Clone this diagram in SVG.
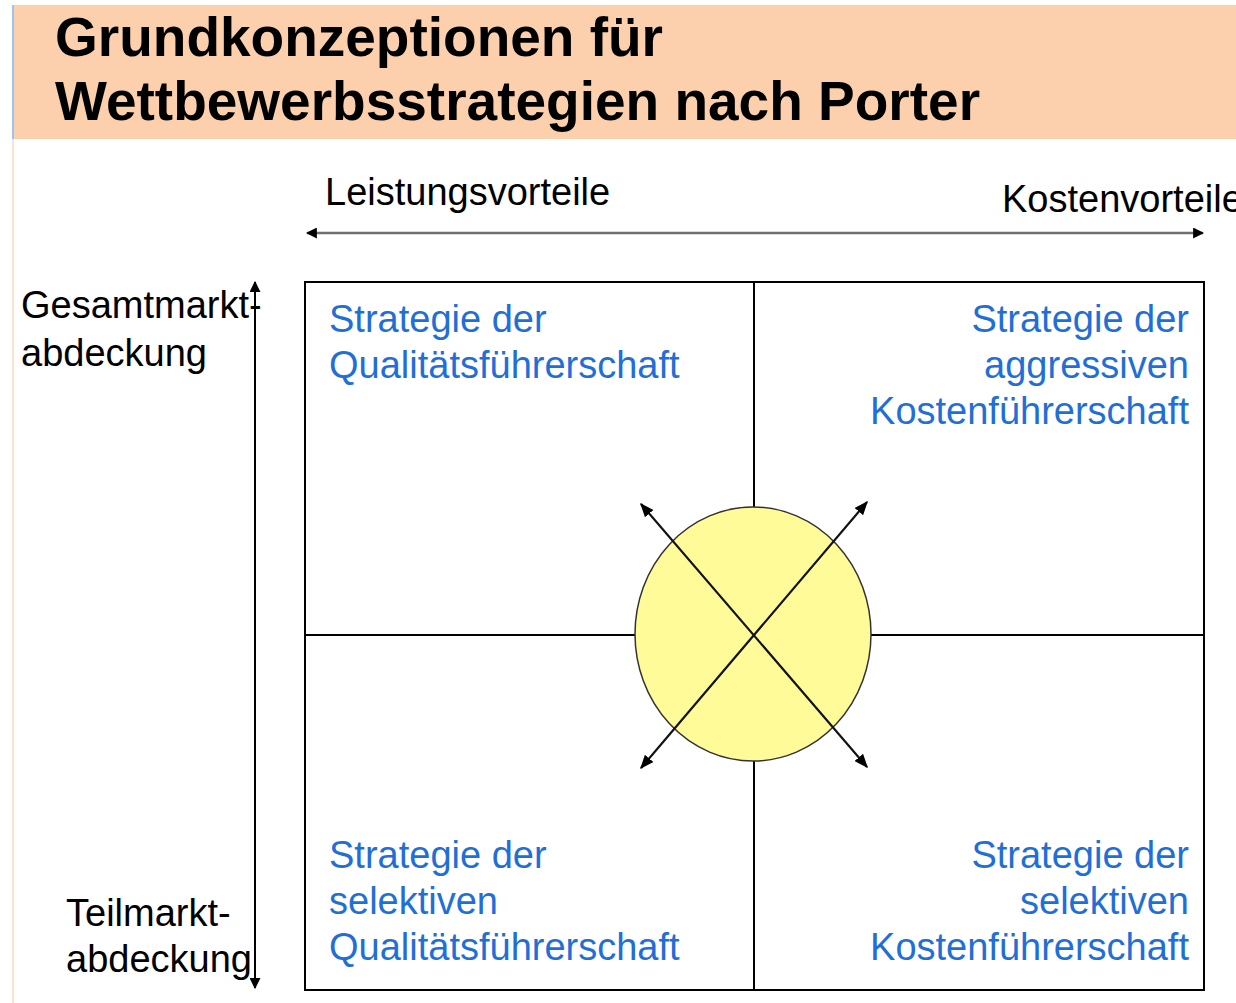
<svg xmlns="http://www.w3.org/2000/svg" width="1236" height="1003" viewBox="0 0 1236 1003">
  <style>
    .title { font-family: "Liberation Sans", Arial, sans-serif; font-weight: bold; font-size: 55px; fill: #000; }
    .axis { font-family: "Liberation Sans", Arial, sans-serif; font-size: 38px; fill: #000; }
    .strat { font-family: "Liberation Sans", Arial, sans-serif; font-size: 38px; fill: #1F6FD6; }
    .grid { stroke: #000; stroke-width: 2; fill: none; }
  </style>
  <defs>
    <marker id="head" viewBox="0 0 10 10" refX="9" refY="5" markerWidth="11" markerHeight="11" markerUnits="userSpaceOnUse" orient="auto-start-reverse">
      <path d="M0,0 L10,5 L0,10 z" fill="#000"/>
    </marker>
    <marker id="headSm" viewBox="0 0 10 10" refX="9" refY="5" markerWidth="14" markerHeight="14" markerUnits="userSpaceOnUse" orient="auto-start-reverse">
      <path d="M0,1 L10,5 L0,9 z" fill="#000"/>
    </marker>
  </defs>

  <rect width="1236" height="1003" fill="#fff"/>

  <!-- header band -->
  <g id="header">
    <rect x="12" y="5" width="1224" height="134" fill="#FCCFAD"/>
    <line x1="13" y1="5" x2="13" y2="139" stroke="#9CC4F2" stroke-width="2"/>
    <line x1="13" y1="139" x2="13" y2="1003" stroke="#FCE2CF" stroke-width="2"/>
    <text class="title" x="55" y="56">Grundkonzeptionen für</text>
    <text class="title" x="55" y="120">Wettbewerbsstrategien nach Porter</text>
  </g>

  <!-- axis labels -->
  <g id="axis-labels">
    <text class="axis" x="325" y="205">Leistungsvorteile</text>
    <text class="axis" x="1002" y="212">Kostenvorteile</text>
    <text class="axis" x="21" y="318">Gesamtmarkt-</text>
    <text class="axis" x="21" y="366">abdeckung</text>
    <text class="axis" x="66" y="926">Teilmarkt-</text>
    <text class="axis" x="66" y="972">abdeckung</text>
  </g>

  <!-- matrix -->
  <g id="matrix">
    <rect class="grid" x="305" y="282" width="899" height="708"/>
    <line class="grid" x1="754" y1="282" x2="754" y2="990"/>
    <line class="grid" x1="305" y1="635" x2="1204" y2="635"/>
  </g>

  <g id="center">
    <ellipse cx="753" cy="634" rx="118" ry="127" fill="#FFFB98" stroke="#333" stroke-width="1.5"/>
  </g>

  <!-- connectors -->
  <g id="connectors">
    <line x1="307" y1="233" x2="1203" y2="233" stroke="#707070" stroke-width="2.5" marker-start="url(#head)" marker-end="url(#head)"/>
    <line x1="255" y1="282" x2="255" y2="988" stroke="#000" stroke-width="2" marker-start="url(#head)" marker-end="url(#head)"/>
    <line x1="641" y1="504" x2="867" y2="767" stroke="#111" stroke-width="2.2" marker-start="url(#headSm)" marker-end="url(#headSm)"/>
    <line x1="867" y1="502" x2="641" y2="768" stroke="#111" stroke-width="2.2" marker-start="url(#headSm)" marker-end="url(#headSm)"/>
  </g>

  <!-- quadrant strategies -->
  <g id="q-top-left">
    <text class="strat" x="329" y="332">Strategie der</text>
    <text class="strat" x="329" y="378">Qualitätsführerschaft</text>
  </g>
  <g id="q-top-right" text-anchor="end">
    <text class="strat" x="1189" y="332">Strategie der</text>
    <text class="strat" x="1189" y="378">aggressiven</text>
    <text class="strat" x="1189" y="424">Kostenführerschaft</text>
  </g>
  <g id="q-bottom-left">
    <text class="strat" x="329" y="868">Strategie der</text>
    <text class="strat" x="329" y="914">selektiven</text>
    <text class="strat" x="329" y="960">Qualitätsführerschaft</text>
  </g>
  <g id="q-bottom-right" text-anchor="end">
    <text class="strat" x="1189" y="868">Strategie der</text>
    <text class="strat" x="1189" y="914">selektiven</text>
    <text class="strat" x="1189" y="960">Kostenführerschaft</text>
  </g>
</svg>
